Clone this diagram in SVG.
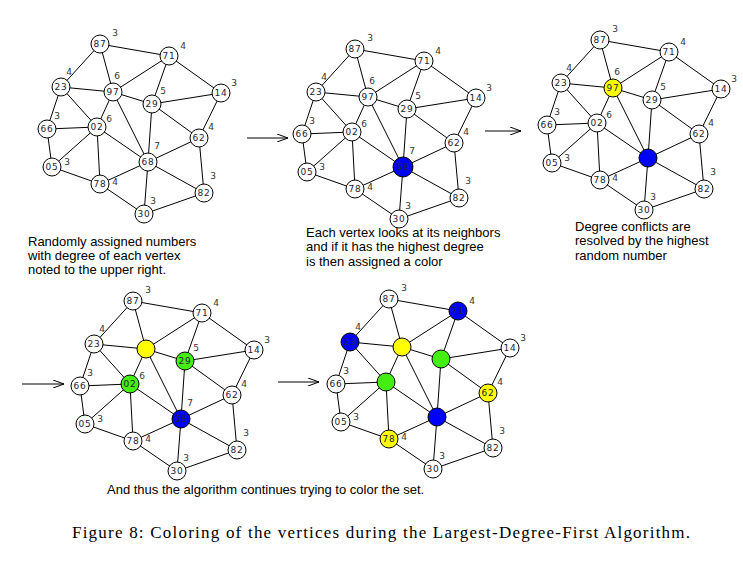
<svg xmlns="http://www.w3.org/2000/svg" xmlns:xlink="http://www.w3.org/1999/xlink" width="743" height="561" viewBox="0 0 743 561">
<style>
.n circle{fill:#fff;stroke:#000;stroke-width:1}
.n text{font-family:"DejaVu Sans",sans-serif;font-size:9px;fill:#223;text-anchor:middle;dominant-baseline:central;letter-spacing:0.8px}
.n text.d{font-size:9px;fill:#333;letter-spacing:0}
.b circle{fill:#0000ff}
.y circle{fill:#ffff00}
.g circle{fill:#44ee11}
.e line{stroke:#000;stroke-width:1}
.t{font-family:"Liberation Sans",Arial,sans-serif;font-size:13px;fill:#000}
.cap{font-family:"Liberation Serif","Times New Roman",serif;font-size:17px;fill:#000}
.ar{stroke:#000;stroke-width:1;fill:none}
</style>
<defs>
<marker id="ah" markerWidth="12" markerHeight="8" refX="11" refY="4" orient="auto" markerUnits="userSpaceOnUse"><path d="M0,0 L11,4 L0,8" fill="none" stroke="#000"/></marker>
<g id="edges" class="e">
<line x1="100" y1="44" x2="169" y2="56"/><line x1="100" y1="44" x2="61" y2="87"/><line x1="100" y1="44" x2="113" y2="92"/>
<line x1="169" y1="56" x2="113" y2="92"/><line x1="169" y1="56" x2="152" y2="104"/><line x1="169" y1="56" x2="221" y2="93"/>
<line x1="61" y1="87" x2="113" y2="92"/><line x1="61" y1="87" x2="97" y2="127"/><line x1="61" y1="87" x2="47" y2="129"/>
<line x1="113" y1="92" x2="152" y2="104"/><line x1="113" y1="92" x2="97" y2="127"/><line x1="113" y1="92" x2="148" y2="162"/>
<line x1="152" y1="104" x2="221" y2="93"/><line x1="152" y1="104" x2="148" y2="162"/><line x1="152" y1="104" x2="199" y2="138"/>
<line x1="221" y1="93" x2="199" y2="138"/><line x1="47" y1="129" x2="97" y2="127"/><line x1="47" y1="129" x2="52" y2="167"/>
<line x1="97" y1="127" x2="52" y2="167"/><line x1="97" y1="127" x2="100" y2="184"/><line x1="97" y1="127" x2="148" y2="162"/>
<line x1="199" y1="138" x2="148" y2="162"/><line x1="199" y1="138" x2="204" y2="193"/><line x1="52" y1="167" x2="100" y2="184"/>
<line x1="148" y1="162" x2="100" y2="184"/><line x1="148" y1="162" x2="144" y2="214"/><line x1="148" y1="162" x2="204" y2="193"/>
<line x1="100" y1="184" x2="144" y2="214"/><line x1="144" y1="214" x2="204" y2="193"/>
</g>
</defs>
<g id="connectors">
<use xlink:href="#edges"/>
<use xlink:href="#edges" transform="translate(255,5)"/>
<use xlink:href="#edges" transform="translate(500,-4)"/>
<use xlink:href="#edges" transform="translate(33,257)"/>
<use xlink:href="#edges" transform="translate(289,255)"/>
<line class="ar" x1="247" y1="138" x2="288" y2="138" marker-end="url(#ah)"/>
<line class="ar" x1="485" y1="131" x2="521" y2="131" marker-end="url(#ah)"/>
<line class="ar" x1="22" y1="384" x2="64" y2="384" marker-end="url(#ah)"/>
<line class="ar" x1="278" y1="382" x2="319" y2="382" marker-end="url(#ah)"/>
</g>
<g id="graph1">
<g id="a87" class="n" transform="translate(100,44)"><circle r="9"/><text>87</text><text class="d" x="15" y="-11">3</text></g>
<g id="a71" class="n" transform="translate(169,56)"><circle r="9"/><text>71</text><text class="d" x="14" y="-10">4</text></g>
<g id="a23" class="n" transform="translate(61,87)"><circle r="9"/><text>23</text><text class="d" x="8" y="-15">4</text></g>
<g id="a97" class="n" transform="translate(113,92)"><circle r="9"/><text>97</text><text class="d" x="4" y="-16">6</text></g>
<g id="a29" class="n" transform="translate(152,104)"><circle r="9"/><text>29</text><text class="d" x="11" y="-13">5</text></g>
<g id="a14" class="n" transform="translate(221,93)"><circle r="9"/><text>14</text><text class="d" x="13" y="-10">3</text></g>
<g id="a66" class="n" transform="translate(47,129)"><circle r="9"/><text>66</text><text class="d" x="10" y="-13">3</text></g>
<g id="a02" class="n" transform="translate(97,127)"><circle r="9"/><text>02</text><text class="d" x="12" y="-8">6</text></g>
<g id="a62" class="n" transform="translate(199,138)"><circle r="9"/><text>62</text><text class="d" x="12" y="-11">4</text></g>
<g id="a05" class="n" transform="translate(52,167)"><circle r="9"/><text>05</text><text class="d" x="15" y="-5">3</text></g>
<g id="a68" class="n" transform="translate(148,162)"><circle r="9"/><text>68</text><text class="d" x="9" y="-16">7</text></g>
<g id="a78" class="n" transform="translate(100,184)"><circle r="9"/><text>78</text><text class="d" x="15" y="-2">4</text></g>
<g id="a82" class="n" transform="translate(204,193)"><circle r="9"/><text>82</text><text class="d" x="9" y="-17">3</text></g>
<g id="a30" class="n" transform="translate(144,214)"><circle r="9"/><text>30</text><text class="d" x="9" y="-13">3</text></g>
</g>
<g id="graph2" transform="translate(255,5)">
<g id="b87" class="n" transform="translate(100,44)"><circle r="9"/><text>87</text><text class="d" x="15" y="-11">3</text></g>
<g id="b71" class="n" transform="translate(169,56)"><circle r="9"/><text>71</text><text class="d" x="14" y="-10">4</text></g>
<g id="b23" class="n" transform="translate(61,87)"><circle r="9"/><text>23</text><text class="d" x="8" y="-15">4</text></g>
<g id="b97" class="n" transform="translate(113,92)"><circle r="9"/><text>97</text><text class="d" x="4" y="-16">6</text></g>
<g id="b29" class="n" transform="translate(152,104)"><circle r="9"/><text>29</text><text class="d" x="11" y="-13">5</text></g>
<g id="b14" class="n" transform="translate(221,93)"><circle r="9"/><text>14</text><text class="d" x="13" y="-10">3</text></g>
<g id="b66" class="n" transform="translate(47,129)"><circle r="9"/><text>66</text><text class="d" x="10" y="-13">3</text></g>
<g id="b02" class="n" transform="translate(97,127)"><circle r="9"/><text>02</text><text class="d" x="12" y="-8">6</text></g>
<g id="b62" class="n" transform="translate(199,138)"><circle r="9"/><text>62</text><text class="d" x="12" y="-11">4</text></g>
<g id="b05" class="n" transform="translate(52,167)"><circle r="9"/><text>05</text><text class="d" x="15" y="-5">3</text></g>
<g id="b68" class="n b" transform="translate(148,162)"><circle r="10"/><text>68</text><text class="d" x="9" y="-16">7</text></g>
<g id="b78" class="n" transform="translate(100,184)"><circle r="9"/><text>78</text><text class="d" x="15" y="-2">4</text></g>
<g id="b82" class="n" transform="translate(204,193)"><circle r="9"/><text>82</text><text class="d" x="9" y="-17">3</text></g>
<g id="b30" class="n" transform="translate(144,214)"><circle r="9"/><text>30</text><text class="d" x="9" y="-13">3</text></g>
</g>
<g id="graph3" transform="translate(500,-4)">
<g id="c87" class="n" transform="translate(100,44)"><circle r="9"/><text>87</text><text class="d" x="15" y="-11">3</text></g>
<g id="c71" class="n" transform="translate(169,56)"><circle r="9"/><text>71</text><text class="d" x="14" y="-10">4</text></g>
<g id="c23" class="n" transform="translate(61,87)"><circle r="9"/><text>23</text><text class="d" x="8" y="-15">4</text></g>
<g id="c97" class="n y" transform="translate(113,92)"><circle r="9"/><text>97</text><text class="d" x="4" y="-16">6</text></g>
<g id="c29" class="n" transform="translate(152,104)"><circle r="9"/><text>29</text><text class="d" x="11" y="-13">5</text></g>
<g id="c14" class="n" transform="translate(221,93)"><circle r="9"/><text>14</text><text class="d" x="13" y="-10">3</text></g>
<g id="c66" class="n" transform="translate(47,129)"><circle r="9"/><text>66</text><text class="d" x="10" y="-13">3</text></g>
<g id="c02" class="n" transform="translate(97,127)"><circle r="9"/><text>02</text><text class="d" x="12" y="-8">6</text></g>
<g id="c62" class="n" transform="translate(199,138)"><circle r="9"/><text>62</text><text class="d" x="12" y="-11">4</text></g>
<g id="c05" class="n" transform="translate(52,167)"><circle r="9"/><text>05</text><text class="d" x="15" y="-5">3</text></g>
<g id="c68" class="n b" transform="translate(148,162)"><circle r="9"/></g>
<g id="c78" class="n" transform="translate(100,184)"><circle r="9"/><text>78</text><text class="d" x="15" y="-2">4</text></g>
<g id="c82" class="n" transform="translate(204,193)"><circle r="9"/><text>82</text><text class="d" x="9" y="-17">3</text></g>
<g id="c30" class="n" transform="translate(144,214)"><circle r="9"/><text>30</text><text class="d" x="9" y="-13">3</text></g>
</g>
<g id="graph4" transform="translate(33,257)">
<g id="d87" class="n" transform="translate(100,44)"><circle r="9"/><text>87</text><text class="d" x="15" y="-11">3</text></g>
<g id="d71" class="n" transform="translate(169,56)"><circle r="9"/><text>71</text><text class="d" x="14" y="-10">4</text></g>
<g id="d23" class="n" transform="translate(61,87)"><circle r="9"/><text>23</text><text class="d" x="8" y="-15">4</text></g>
<g id="d97" class="n y" transform="translate(113,92)"><circle r="9"/></g>
<g id="d29" class="n g" transform="translate(152,104)"><circle r="9"/><text>29</text><text class="d" x="11" y="-13">5</text></g>
<g id="d14" class="n" transform="translate(221,93)"><circle r="9"/><text>14</text><text class="d" x="13" y="-10">3</text></g>
<g id="d66" class="n" transform="translate(47,129)"><circle r="9"/><text>66</text><text class="d" x="10" y="-13">3</text></g>
<g id="d02" class="n g" transform="translate(97,127)"><circle r="9"/><text>02</text><text class="d" x="12" y="-8">6</text></g>
<g id="d62" class="n" transform="translate(199,138)"><circle r="9"/><text>62</text><text class="d" x="12" y="-11">4</text></g>
<g id="d05" class="n" transform="translate(52,167)"><circle r="9"/><text>05</text><text class="d" x="15" y="-5">3</text></g>
<g id="d68" class="n b" transform="translate(148,162)"><circle r="9"/><text>68</text><text class="d" x="9" y="-16">7</text></g>
<g id="d78" class="n" transform="translate(100,184)"><circle r="9"/><text>78</text><text class="d" x="15" y="-2">4</text></g>
<g id="d82" class="n" transform="translate(204,193)"><circle r="9"/><text>82</text><text class="d" x="9" y="-17">3</text></g>
<g id="d30" class="n" transform="translate(144,214)"><circle r="9"/><text>30</text><text class="d" x="9" y="-13">3</text></g>
</g>
<g id="graph5" transform="translate(289,255)">
<g id="e87" class="n" transform="translate(100,44)"><circle r="9"/><text>87</text><text class="d" x="15" y="-11">3</text></g>
<g id="e71" class="n b" transform="translate(169,56)"><circle r="9"/><text>71</text><text class="d" x="14" y="-10">4</text></g>
<g id="e23" class="n b" transform="translate(61,87)"><circle r="9"/><text>23</text><text class="d" x="8" y="-15">4</text></g>
<g id="e97" class="n y" transform="translate(113,92)"><circle r="9"/></g>
<g id="e29" class="n g" transform="translate(152,104)"><circle r="9"/></g>
<g id="e14" class="n" transform="translate(221,93)"><circle r="9"/><text>14</text><text class="d" x="13" y="-10">3</text></g>
<g id="e66" class="n" transform="translate(47,129)"><circle r="9"/><text>66</text><text class="d" x="10" y="-13">3</text></g>
<g id="e02" class="n g" transform="translate(97,127)"><circle r="9"/></g>
<g id="e62" class="n y" transform="translate(199,138)"><circle r="9"/><text>62</text><text class="d" x="12" y="-11">4</text></g>
<g id="e05" class="n" transform="translate(52,167)"><circle r="9"/><text>05</text><text class="d" x="15" y="-5">3</text></g>
<g id="e68" class="n b" transform="translate(148,162)"><circle r="9"/></g>
<g id="e78" class="n y" transform="translate(100,184)"><circle r="9"/><text>78</text><text class="d" x="15" y="-2">4</text></g>
<g id="e82" class="n" transform="translate(204,193)"><circle r="9"/><text>82</text><text class="d" x="9" y="-17">3</text></g>
<g id="e30" class="n" transform="translate(144,214)"><circle r="9"/><text>30</text><text class="d" x="9" y="-13">3</text></g>
</g>
<g id="texts">
<text class="t" x="28" y="246">Randomly assigned numbers</text>
<text class="t" x="28" y="260">with degree of each vertex</text>
<text class="t" x="28" y="274">noted to the upper right.</text>
<text class="t" x="306" y="237">Each vertex looks at its neighbors</text>
<text class="t" x="306" y="251">and if it has the highest degree</text>
<text class="t" x="306" y="266">is then assigned a color</text>
<text class="t" x="575" y="231">Degree conflicts are</text>
<text class="t" x="575" y="245">resolved by the highest</text>
<text class="t" x="575" y="260">random number</text>
<text class="t" x="107" y="494">And thus the algorithm continues trying to color the set.</text>
<text class="cap" x="72" y="538" textLength="618" lengthAdjust="spacing">Figure 8: Coloring of the vertices during the Largest-Degree-First Algorithm.</text>
</g>
</svg>
